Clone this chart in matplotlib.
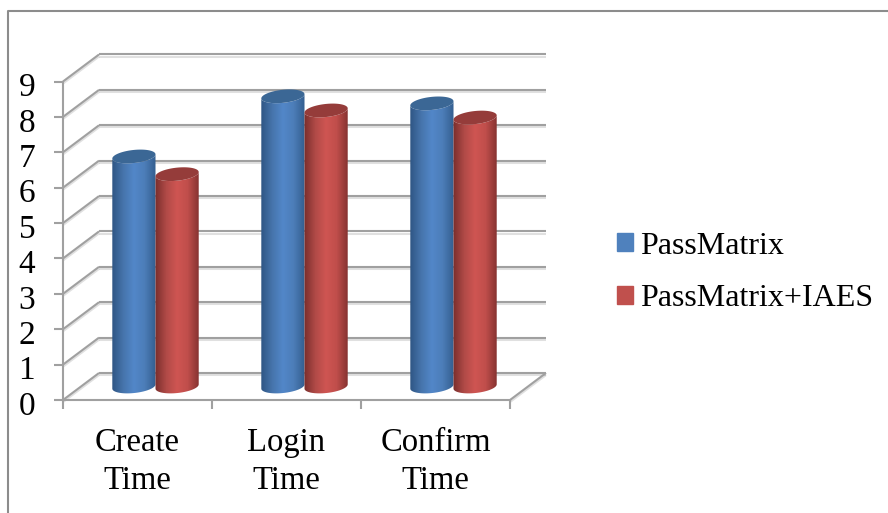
import numpy as np
import matplotlib
matplotlib.use("Agg")
import matplotlib.pyplot as plt
import matplotlib.patheffects as pe
from matplotlib.colors import LinearSegmentedColormap
from matplotlib.lines import Line2D
from matplotlib.patches import Patch, Polygon
from matplotlib.transforms import ScaledTranslation

# data
categories = ["Create\nTime", "Login\nTime", "Confirm\nTime"]
passmatrix = [6.5, 8.2, 8.0]
passmatrix_iaes = [6.0, 7.8, 7.6]
y_ticks = list(range(10))
series_names = ["PassMatrix", "PassMatrix+IAES"]

# fake 3d look
DEPTH_X = 0.2416
DEPTH_Y = 0.763
BAR_W = 0.29
CAP_H = 0.185
CAP_TILT = 0.06
GRID = "#a0a0a0"
FONT = "Liberation Serif"

BLUE = ["#2f5685", "#4674ab", "#5287c9", "#4c7db8", "#345f90"]
RED = ["#7a2e2c", "#b04a47", "#cf5552", "#c04e4b", "#873331"]
BLUE_TOP = "#3b6795"
RED_TOP = "#953c3a"
BLUE_KEY = "#4f81bd"
RED_KEY = "#c0504d"

W, H = 888, 513
fig = plt.figure(figsize=(W / 100, H / 100), dpi=100)
ax = fig.add_axes([63 / W, 1 - 400 / H, (510 - 63) / W, (400 - 81.5) / H])
ax.patch.set_alpha(0)


def wall_line(xs, ys):
    ax.plot(xs, ys, color=GRID, lw=1.5, clip_on=False, zorder=1, solid_capstyle="butt",
            path_effects=[pe.SimpleLineShadow(offset=(0, -1.5), shadow_color="k", alpha=0.12), pe.Normal()])


def cylinder(xc, value, cols, top_col):
    t = np.linspace(0, 2 * np.pi, 80)
    a = BAR_W / 2
    base = DEPTH_Y / 2
    ex = xc + a * np.cos(t)
    ey = CAP_H * np.sin(t) + CAP_TILT * np.cos(t)

    # side of the cylinder, lower half of the base ellipse plus the cap height
    low = np.pi <= t
    body_x = np.r_[ex[low], ex[low][::-1]]
    body_y = np.r_[base + ey[low], (base + value + ey[low])[::-1]]
    clip = Polygon(np.c_[body_x, body_y], closed=True, transform=ax.transData)

    cmap = LinearSegmentedColormap.from_list("cyl", cols)
    grad = np.linspace(0, 1, 64).reshape(1, -1)
    im = ax.imshow(grad, cmap=cmap, aspect="auto", zorder=3,
                   extent=[xc - a, xc + a, base - 0.3, base + value + 0.3])
    im.set_clip_path(clip)

    ax.fill(ex, base + value + ey, color=top_col, lw=0, zorder=3, clip_on=False)


# walls and floor
for v in y_ticks:
    wall_line([0, DEPTH_X], [v, v + DEPTH_Y])
    wall_line([DEPTH_X, 3 + DEPTH_X], [v + DEPTH_Y, v + DEPTH_Y])
wall_line([3, 3 + DEPTH_X], [0, DEPTH_Y])

# cylinders
for i in range(len(categories)):
    mid = i + 0.5 + DEPTH_X / 2
    cylinder(mid - BAR_W / 2, passmatrix[i], BLUE, BLUE_TOP)
    cylinder(mid + BAR_W / 2, passmatrix_iaes[i], RED, RED_TOP)

ax.set_xlim(0, 3)
ax.set_ylim(0, 9)

for s in ["top", "right"]:
    ax.spines[s].set_visible(False)
for s in ["left", "bottom"]:
    ax.spines[s].set_color(GRID)
    ax.spines[s].set_linewidth(1.5)

ax.set_yticks(y_ticks)
ax.set_yticklabels([str(v) for v in y_ticks], fontsize=24, family=FONT, color="black")
ax.tick_params(axis="y", length=6.5, width=1.5, color=GRID, pad=13.5)
# digits sit a little under their ticks in the original
nudge = ScaledTranslation(0, -3 / 100, fig.dpi_scale_trans)
for lab in ax.get_yticklabels():
    lab.set_transform(lab.get_transform() + nudge)

ax.set_xticks(range(4))
ax.set_xticklabels([])
ax.tick_params(axis="x", which="major", length=6.5, width=1.5, color=GRID)
ax.set_xticks(np.arange(len(categories)) + 0.5, minor=True)
ax.set_xticklabels(categories, minor=True, fontsize=23.5, family=FONT, color="black", linespacing=1.3)
ax.tick_params(axis="x", which="minor", length=0, pad=20)

handles = [Patch(color=BLUE_KEY), Patch(color=RED_KEY)]
ax.legend(handles, series_names, loc="center left", bbox_to_anchor=(617 / W, 1 - 272.5 / H),
          bbox_transform=fig.transFigure, frameon=False, borderpad=0, borderaxespad=0,
          prop={"family": FONT, "size": 23}, handlelength=0.5, handleheight=0.5,
          handletextpad=0.22, labelspacing=0.74)

# chart border
fig.add_artist(Line2D([8 / W, 8 / W, 1], [0, 1 - 11 / H, 1 - 11 / H], color="#8c8c8c", lw=1.5))

fig.savefig("out.png", dpi=100)
